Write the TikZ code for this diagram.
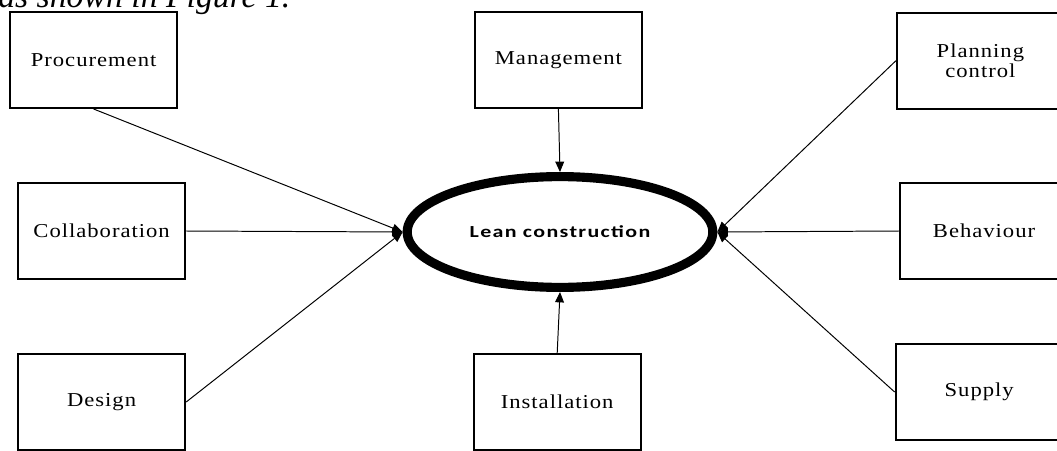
\documentclass[tikz,border=0pt]{standalone}
\usepackage{fontspec}
\setmainfont{Liberation Serif}
\newfontfamily\boxfont[FakeStretch=1.15,LetterSpace=5]{Liberation Serif}
\newfontfamily\hubfont[FakeStretch=1.3,LetterSpace=8]{Carlito}
\usetikzlibrary{shapes.geometric,arrows.meta}

\begin{document}
\begin{tikzpicture}[
  box/.style={rectangle, draw, line width=1.4pt, minimum width=4.18cm, minimum height=2.4cm, align=center, font=\boxfont\fontsize{14}{12.5}\selectfont},
  hub/.style={ellipse, draw, line width=6.5pt, inner sep=0pt, minimum width=7.64cm, minimum height=2.77cm, font=\hubfont\bfseries\fontsize{12}{14}\selectfont},
  arrow/.style={-{Triangle[length=2.6mm, width=2.2mm]}, line width=0.7pt},
]
\clip (0,0) rectangle (26.425,11.25);

% === Running text above the figure ===
\node[anchor=base west, inner sep=0pt, font=\itshape\fontsize{24}{28}\selectfont] (intro) at (-0.05,11.05) {as shown in Figure 1.};

% === Central concept ===
\node[hub] (lean) at (14.0,5.45) {Lean construction};

% === Factors ===
\node[box] (proc) at (2.34,9.75) {Procurement};
\node[box] (mgmt) at (13.96,9.75) {Management};
\node[box] (plan) at (24.51,9.73) {Planning\\control};
\node[box] (collab) at (2.54,5.475) {Collaboration};
\node[box] (behav) at (24.6,5.475) {Behaviour};
\node[box] (design) at (2.54,1.2) {Design};
\node[box] (install) at (13.93,1.2) {Installation};
\node[box] (supply) at (24.48,1.45) {Supply};

% === Links into the centre ===
\draw[arrow] (proc.south) -- (lean.west);
\draw[arrow] (collab.east) -- (lean.west);
\draw[arrow] (design.east) -- (lean.west);
\draw[arrow] (mgmt.south) -- (lean.north);
\draw[arrow] (install.north) -- (lean.south);
\draw[arrow] (plan.west) -- (lean.east);
\draw[arrow] (behav.west) -- (lean.east);
\draw[arrow] (supply.west) -- (lean.east);

\end{tikzpicture}
\end{document}
